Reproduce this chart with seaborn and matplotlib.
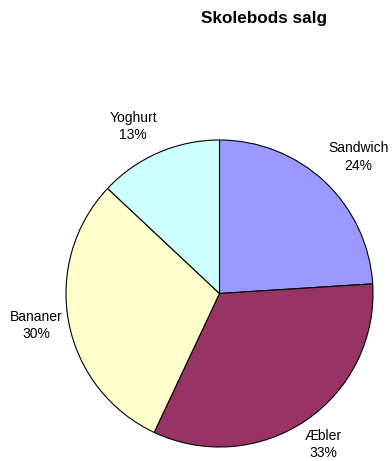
import matplotlib
matplotlib.use("Agg")
import matplotlib.pyplot as plt
import seaborn as sns

categories = ["Sandwich", "Æbler", "Bananer", "Yoghurt"]
shares = [24, 33, 30, 13]
slice_colors = ["#9999FF", "#993366", "#FFFFCC", "#CCFFFF"]
title = "Skolebods salg"

sns.set_theme(style="white")
plt.rcParams["font.family"] = ["Liberation Sans", "DejaVu Sans"]

fig = plt.figure(figsize=(3.92, 4.61), dpi=100)
fig.patch.set_facecolor("white")

# pie centre at (219.5, 293.5) px, radius 153.5 px
W, H = 392, 461
cx, cy, r = 219.5, 293.5, 153.5
ax = fig.add_axes([(cx - r) / W, (H - cy - r) / H, 2 * r / W, 2 * r / H])

labels = [f"{c}\n{s}%" for c, s in zip(categories, shares)]
wedges, texts = ax.pie(
    shares,
    labels=labels,
    colors=sns.color_palette(slice_colors),
    startangle=90,
    counterclock=False,
    labeldistance=1.22,
    wedgeprops=dict(edgecolor="black", linewidth=0.8),
    textprops=dict(fontsize=10, color="black", linespacing=1.3),
)
# small per-label nudges (in pixels) so labels sit clear of the rim
nudges = [(11, 0), (-1, 4), (1, 3), (-12, -5)]
for t, (nx, ny) in zip(texts, nudges):
    x, y = t.get_position()
    t.set_position((x + nx / r, y + ny / r))
    t.set_ha("center")
    t.set_va("center")
ax.set_xlim(-1, 1)
ax.set_ylim(-1, 1)
ax.set_aspect("auto")
ax.axis("off")

fig.text(264 / W, 1 - 19 / H, title, ha="center", va="center",
         fontsize=12.3, fontweight="bold", color="black")

fig.savefig("out.png", dpi=100, facecolor="white")
